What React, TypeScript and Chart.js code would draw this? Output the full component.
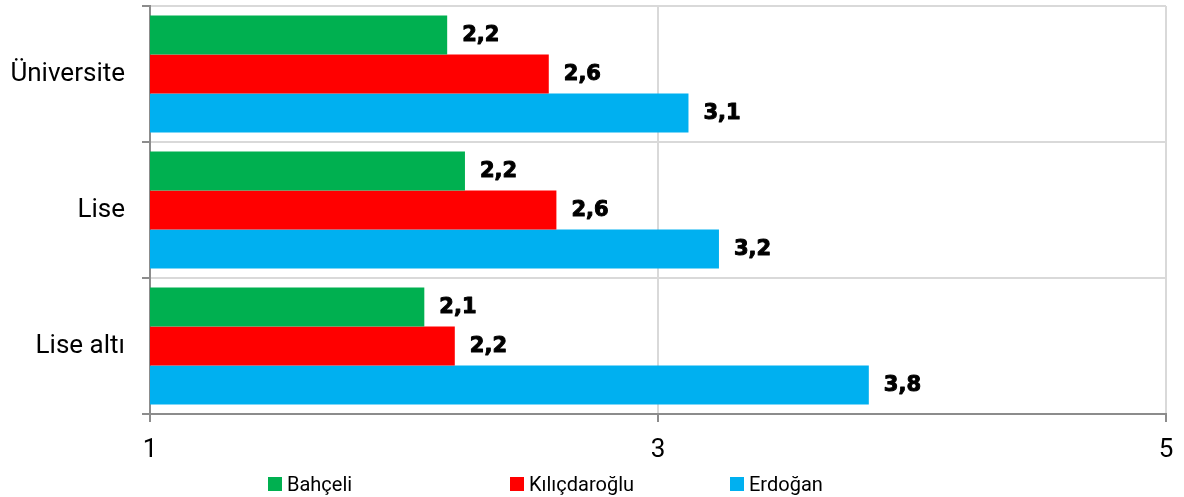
import React, { useEffect, useRef } from "react";
import { Chart, registerables } from "chart.js";

Chart.register(...registerables);

const categories = ["Üniversite", "Lise", "Lise altı"];
const seriesNames = ["Bahçeli", "Kılıçdaroğlu", "Erdoğan"];
const bahceli = [2.17, 2.24, 2.08];
const kilicdaroglu = [2.57, 2.6, 2.2];
const erdogan = [3.12, 3.24, 3.83];
const xTicks = [1, 3, 5];
const colors = ["#00B050", "#FF0000", "#00B0F0"];

const FONT = "Roboto, 'Noto Sans', sans-serif";

const valueLabels = {
  id: "valueLabels",
  afterDatasetsDraw(chart: any) {
    const ctx = chart.ctx;
    ctx.save();
    ctx.font = "bold 21px 'DejaVu Sans', sans-serif";
    ctx.fillStyle = "#000";
    ctx.strokeStyle = "#000";
    ctx.lineWidth = 1;
    ctx.lineJoin = "round";
    ctx.textAlign = "left";
    ctx.textBaseline = "middle";
    chart.data.datasets.forEach((ds: any, i: number) => {
      const meta = chart.getDatasetMeta(i);
      meta.data.forEach((el: any, j: number) => {
        const v = ds.data[j] as number;
        const txt = v.toFixed(1).replace(".", ",");
        ctx.fillText(txt, el.x + 15, el.y + 1);
        ctx.strokeText(txt, el.x + 15, el.y + 1);
      });
    });
    ctx.restore();
  },
};

export default function App() {
  const ref = useRef<HTMLCanvasElement>(null);
  useEffect(() => {
    document.body.style.margin = "0";
    if (!ref.current) return;
    const chart = new Chart(ref.current, {
      type: "bar",
      data: {
        labels: categories,
        datasets: [bahceli, kilicdaroglu, erdogan].map((d, i) => ({
          label: seriesNames[i],
          data: d,
          backgroundColor: colors[i],
          borderWidth: 0,
          categoryPercentage: 0.86,
          barPercentage: 1,
        })),
      },
      options: {
        indexAxis: "y",
        animation: false,
        responsive: false,
        maintainAspectRatio: false,
        layout: { padding: { top: 6, right: 18, left: 0, bottom: 0 } },
        plugins: {
          legend: { display: false },
          tooltip: { enabled: false },
        },
        scales: {
          x: {
            type: "linear",
            min: 1,
            max: 5,
            afterBuildTicks: (scale: any) => {
              scale.ticks = xTicks.map((v) => ({ value: v }));
            },
            afterFit: (scale: any) => {
              scale.height = 83;
              scale.paddingLeft = 0;
              scale.paddingRight = 0;
            },
            grid: {
              color: "#D9D9D9",
              lineWidth: 2,
              tickColor: "#8C8C8C",
              tickLength: 8,
            },
            border: { color: "#8C8C8C", width: 2 },
            ticks: {
              color: "#000",
              padding: 13,
              font: { family: FONT, size: 26 },
              callback: (v: any) => String(v),
            },
          },
          y: {
            afterFit: (scale: any) => {
              scale.width = 150;
              scale.paddingTop = 0;
              scale.paddingBottom = 0;
            },
            grid: {
              color: "#D9D9D9",
              lineWidth: 2,
              tickColor: "#8C8C8C",
              tickLength: 8,
              offset: true,
            },
            border: { color: "#8C8C8C", width: 2 },
            ticks: {
              color: "#000",
              padding: 17,
              font: { family: FONT, size: 26 },
            },
          },
        },
      },
      plugins: [valueLabels],
    });
    return () => chart.destroy();
  }, []);

  const legendLeft = [268, 510, 730];
  return (
    <div style={{ position: "relative", width: 1184, height: 497, overflow: "hidden" }}>
      <canvas ref={ref} width={1184} height={497} style={{ display: "block" }} />
      {seriesNames.map((n, i) => (
        <div
          key={n}
          style={{
            position: "absolute",
            left: legendLeft[i],
            top: 470,
            display: "flex",
            alignItems: "center",
            fontFamily: FONT,
            fontSize: 20,
            color: "#000",
            lineHeight: "28px",
          }}
        >
          <span style={{ display: "inline-block", width: 14, height: 14, background: colors[i], marginRight: 5 }} />
          <span>{n}</span>
        </div>
      ))}
    </div>
  );
}
